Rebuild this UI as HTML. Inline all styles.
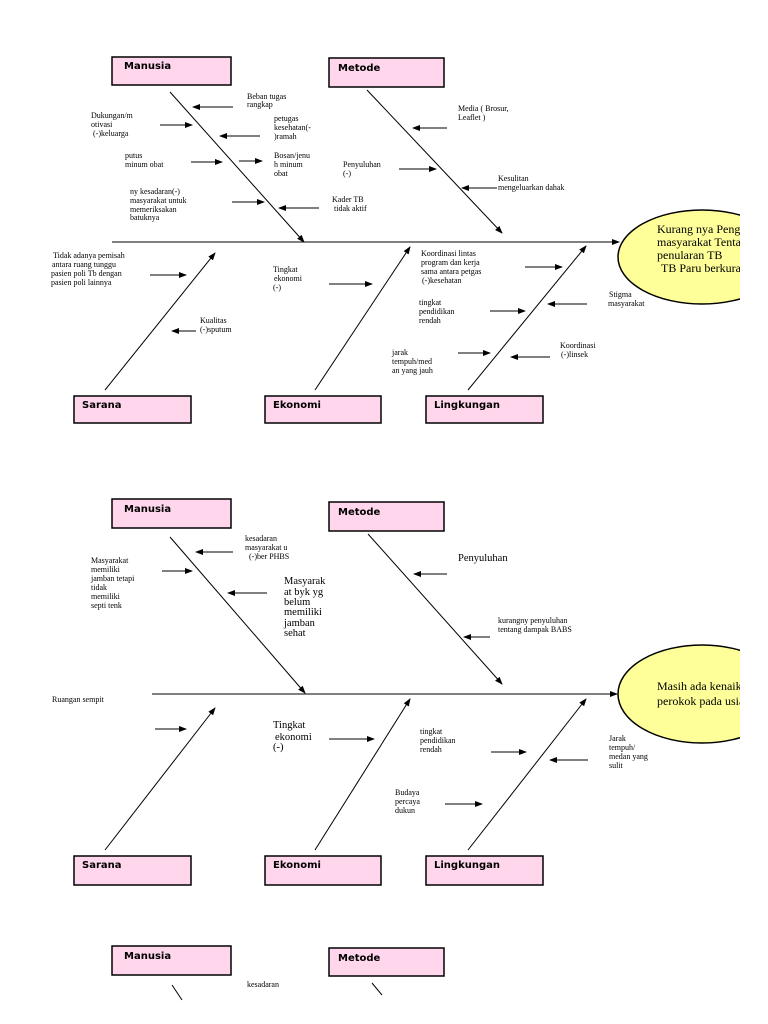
<!DOCTYPE html>
<html><head><meta charset="utf-8"><style>
html,body{margin:0;padding:0;background:#fff;}
svg{display:block;}
.s{font-family:"Liberation Serif",serif;font-size:8px;fill:#000;}
.m{font-family:"Liberation Serif",serif;font-size:10.5px;fill:#000;}
.b{font-family:"DejaVu Sans","Liberation Sans",sans-serif;font-size:10px;font-weight:bold;fill:#000;}
.e{font-family:"Liberation Serif",serif;font-size:12px;fill:#000;}
</style></head><body>
<svg width="768" height="1024" viewBox="0 0 768 1024" xmlns="http://www.w3.org/2000/svg">
<defs>
<marker id="a" markerWidth="8" markerHeight="6" refX="7" refY="3" orient="auto" markerUnits="userSpaceOnUse"><path d="M0,0 L8,3 L0,6 z" fill="#000"/></marker>
<clipPath id="c"><rect x="0" y="0" width="740" height="1024"/></clipPath>
</defs>
<g stroke="#000" stroke-width="1" fill="none">
<line x1="112" y1="242" x2="619" y2="242" marker-end="url(#a)"/>
<line x1="170" y1="92" x2="304" y2="242" marker-end="url(#a)"/>
<line x1="367" y1="90" x2="502" y2="233" marker-end="url(#a)"/>
<line x1="105" y1="390" x2="215" y2="253" marker-end="url(#a)"/>
<line x1="315" y1="390" x2="410" y2="247" marker-end="url(#a)"/>
<line x1="468" y1="390" x2="586" y2="246" marker-end="url(#a)"/>
<line x1="233" y1="107" x2="193" y2="107" marker-end="url(#a)"/>
<line x1="160" y1="125" x2="192" y2="125" marker-end="url(#a)"/>
<line x1="260" y1="136" x2="220" y2="136" marker-end="url(#a)"/>
<line x1="191" y1="162" x2="222" y2="162" marker-end="url(#a)"/>
<line x1="239" y1="161" x2="262" y2="161" marker-end="url(#a)"/>
<line x1="232" y1="202" x2="264" y2="202" marker-end="url(#a)"/>
<line x1="319" y1="208" x2="279" y2="208" marker-end="url(#a)"/>
<line x1="150" y1="275" x2="186" y2="275" marker-end="url(#a)"/>
<line x1="329" y1="284" x2="372" y2="284" marker-end="url(#a)"/>
<line x1="196" y1="331" x2="172" y2="331" marker-end="url(#a)"/>
<line x1="447" y1="128" x2="413" y2="128" marker-end="url(#a)"/>
<line x1="399" y1="169" x2="436" y2="169" marker-end="url(#a)"/>
<line x1="497" y1="188" x2="462" y2="188" marker-end="url(#a)"/>
<line x1="525" y1="267" x2="562" y2="267" marker-end="url(#a)"/>
<line x1="490" y1="311" x2="525" y2="311" marker-end="url(#a)"/>
<line x1="587" y1="304" x2="548" y2="304" marker-end="url(#a)"/>
<line x1="458" y1="353" x2="490" y2="353" marker-end="url(#a)"/>
<line x1="550" y1="357" x2="511" y2="357" marker-end="url(#a)"/>
<line x1="152" y1="694" x2="617" y2="694" marker-end="url(#a)"/>
<line x1="170" y1="537" x2="305" y2="693" marker-end="url(#a)"/>
<line x1="368" y1="534" x2="502" y2="684" marker-end="url(#a)"/>
<line x1="105" y1="850" x2="215" y2="708" marker-end="url(#a)"/>
<line x1="315" y1="850" x2="410" y2="699" marker-end="url(#a)"/>
<line x1="468" y1="850" x2="586" y2="699" marker-end="url(#a)"/>
<line x1="233" y1="552" x2="196" y2="552" marker-end="url(#a)"/>
<line x1="162" y1="571" x2="192" y2="571" marker-end="url(#a)"/>
<line x1="267" y1="593" x2="228" y2="593" marker-end="url(#a)"/>
<line x1="447" y1="574" x2="414" y2="574" marker-end="url(#a)"/>
<line x1="490" y1="637" x2="464" y2="637" marker-end="url(#a)"/>
<line x1="155" y1="729" x2="186" y2="729" marker-end="url(#a)"/>
<line x1="329" y1="739" x2="374" y2="739" marker-end="url(#a)"/>
<line x1="491" y1="752" x2="526" y2="752" marker-end="url(#a)"/>
<line x1="588" y1="760" x2="550" y2="760" marker-end="url(#a)"/>
<line x1="445" y1="804" x2="482" y2="804" marker-end="url(#a)"/>
<line x1="172" y1="985" x2="182" y2="1000"/>
<line x1="372" y1="983" x2="382" y2="995"/>
</g>
<g clip-path="url(#c)">
<ellipse cx="702" cy="257" rx="84" ry="47" fill="#ffff99" stroke="#000" stroke-width="1.5"/>
<text class="e" x="657" y="233">Kurang nya Pengetahuan</text>
<text class="e" x="657" y="246">masyarakat Tentang</text>
<text class="e" x="657" y="259">penularan TB</text>
<text class="e" x="661" y="272">TB Paru berkurang</text>
<ellipse cx="702" cy="694" rx="84" ry="49" fill="#ffff99" stroke="#000" stroke-width="1.5"/>
<text class="e" x="657" y="690">Masih ada kenaikan</text>
<text class="e" x="657" y="705">perokok pada usia</text>
</g>
<g fill="#ffd6ec" stroke="#000" stroke-width="1.5">
<rect x="112" y="57" width="119" height="28"/>
<rect x="329" y="58" width="115" height="29"/>
<rect x="74" y="396" width="117" height="27"/>
<rect x="265" y="396" width="116" height="27"/>
<rect x="426" y="396" width="117" height="27"/>
<rect x="112" y="499" width="119" height="29"/>
<rect x="329" y="502" width="115" height="29"/>
<rect x="74" y="856" width="117" height="29"/>
<rect x="265" y="856" width="116" height="29"/>
<rect x="426" y="856" width="117" height="29"/>
<rect x="112" y="946" width="119" height="29"/>
<rect x="329" y="948" width="115" height="28"/>
</g>
<text class="b" x="124" y="69">Manusia</text>
<text class="b" x="338" y="71">Metode</text>
<text class="b" x="82" y="408">Sarana</text>
<text class="b" x="273" y="408">Ekonomi</text>
<text class="b" x="434" y="408">Lingkungan</text>
<text class="b" x="124" y="512">Manusia</text>
<text class="b" x="338" y="515">Metode</text>
<text class="b" x="82" y="868">Sarana</text>
<text class="b" x="273" y="868">Ekonomi</text>
<text class="b" x="434" y="868">Lingkungan</text>
<text class="b" x="124" y="959">Manusia</text>
<text class="b" x="338" y="961">Metode</text>
<g class="s">
<text x="247" y="99">Beban tugas</text><text x="247" y="107">rangkap</text>
<text x="91" y="118">Dukungan/m</text><text x="91" y="127">otivasi</text><text x="93" y="136">(-)keluarga</text>
<text x="274" y="121">petugas</text><text x="274" y="130">kesehatan(-</text><text x="274" y="139">)ramah</text>
<text x="125" y="158">putus</text><text x="125" y="167">minum obat</text>
<text x="274" y="158">Bosan/jenu</text><text x="274" y="167">h minum</text><text x="274" y="176">obat</text>
<text x="130" y="194">ny kesadaran(-)</text><text x="130" y="203">masyarakat  untuk</text><text x="130" y="212">memeriksakan</text><text x="130" y="220">batuknya</text>
<text x="332" y="202">Kader  TB</text><text x="334" y="211">tidak aktif</text>
<text x="53" y="258">Tidak adanya pemisah</text><text x="52" y="267">antara ruang tunggu</text><text x="51" y="276">pasien poli Tb dengan</text><text x="51" y="285">pasien poli lainnya</text>
<text x="273" y="272">Tingkat</text><text x="274" y="281">ekonomi</text><text x="273" y="290">(-)</text>
<text x="200" y="323">Kualitas</text><text x="200" y="332">(-)sputum</text>
<text x="458" y="111">Media ( Brosur,</text><text x="458" y="120">Leaflet )</text>
<text x="343" y="167">Penyuluhan</text><text x="343" y="176">(-)</text>
<text x="498" y="181">Kesulitan</text><text x="498" y="190">mengeluarkan dahak</text>
<text x="421" y="256">Koordinasi lintas</text><text x="421" y="265">program  dan kerja</text><text x="421" y="274">sama antara petgas</text><text x="422" y="283">(-)kesehatan</text>
<text x="419" y="305">tingkat</text><text x="419" y="314">pendidikan</text><text x="419" y="323">rendah</text>
<text x="609" y="297">Stigma</text><text x="608" y="306">masyarakat</text>
<text x="392" y="355">jarak</text><text x="392" y="364">tempuh/med</text><text x="392" y="373">an yang jauh</text>
<text x="560" y="348">Koordinasi</text><text x="561" y="357">(-)linsek</text>
<text x="245" y="541">kesadaran</text><text x="245" y="550">masyarakat u</text><text x="249" y="559">(-)ber PHBS</text>
<text x="91" y="563">Masyarakat</text><text x="91" y="572">memiliki</text><text x="91" y="581">jamban tetapi</text><text x="91" y="590">tidak</text><text x="91" y="599">memiliki</text><text x="91" y="608">septi tenk</text>
<text x="498" y="623">kurangny penyuluhan</text><text x="498" y="632">tentang dampak BABS</text>
<text x="52" y="702">Ruangan sempit</text>
<text x="420" y="734">tingkat</text><text x="420" y="743">pendidikan</text><text x="420" y="752">rendah</text>
<text x="609" y="741">Jarak</text><text x="609" y="750">tempuh/</text><text x="609" y="759">medan yang</text><text x="609" y="768">sulit</text>
<text x="395" y="795">Budaya</text><text x="395" y="804">percaya</text><text x="395" y="813">dukun</text>
<text x="247" y="987">kesadaran</text>
</g>
<g class="m">
<text x="284" y="584">Masyarak</text><text x="284" y="595">at byk yg</text><text x="284" y="605">belum</text><text x="284" y="615">memiliki</text><text x="284" y="626">jamban</text><text x="284" y="636">sehat</text>
<text x="458" y="561">Penyuluhan</text>
<text x="273" y="728">Tingkat</text><text x="275" y="740">ekonomi</text><text x="273" y="750">(-)</text>
</g>
</svg>
</body></html>
